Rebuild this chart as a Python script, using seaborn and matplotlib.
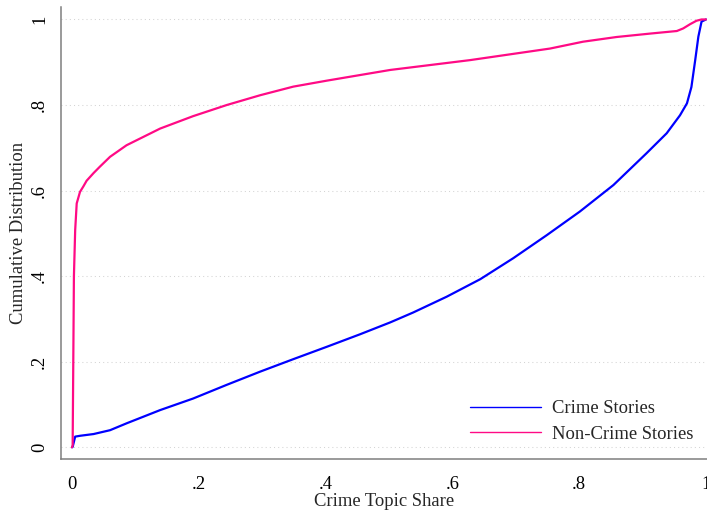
import numpy as np
import pandas as pd
import matplotlib
matplotlib.use("Agg")
import matplotlib.pyplot as plt
import seaborn as sns

# Values (cumulative distributions)
crime_x = [0.0, 0.001, 0.005, 0.013, 0.034, 0.060, 0.086, 0.139, 0.191, 0.244,
           0.297, 0.349, 0.402, 0.454, 0.502, 0.538, 0.591, 0.644, 0.696, 0.749,
           0.801, 0.854, 0.906, 0.938, 0.959, 0.970, 0.977, 0.983, 0.988, 0.993, 1.0]
crime_y = [0.0, 0.001, 0.025, 0.027, 0.031, 0.040, 0.056, 0.087, 0.114, 0.146,
           0.177, 0.206, 0.235, 0.264, 0.292, 0.315, 0.352, 0.393, 0.442, 0.496,
           0.551, 0.613, 0.687, 0.734, 0.776, 0.804, 0.842, 0.905, 0.96, 0.995, 1.0]

noncrime_x = [0.0, 0.001, 0.002, 0.003, 0.005, 0.0074, 0.0126, 0.018, 0.023, 0.034,
              0.044, 0.060, 0.086, 0.139, 0.191, 0.244, 0.297, 0.349, 0.402, 0.454,
              0.502, 0.628, 0.754, 0.806, 0.859, 0.912, 0.954, 0.964, 0.975, 0.985,
              0.993, 1.0]
noncrime_y = [0.0, 0.005, 0.200, 0.400, 0.508, 0.570, 0.597, 0.610, 0.623, 0.641,
              0.656, 0.679, 0.706, 0.745, 0.774, 0.800, 0.823, 0.843, 0.857, 0.870,
              0.882, 0.905, 0.932, 0.948, 0.959, 0.967, 0.973, 0.979, 0.989, 0.997,
              1.0, 1.0]

x_ticks = [0, 0.2, 0.4, 0.6, 0.8, 1.0]
x_tick_labels = ["0", ".2", ".4", ".6", ".8", "1"]
y_ticks = [0, 0.2, 0.4, 0.6, 0.8, 1.0]
y_tick_labels = ["0", ".2", ".4", ".6", ".8", "1"]

sns.set_style("white")
plt.rcParams["font.family"] = ["Liberation Serif", "DejaVu Serif"]

fig = plt.figure(figsize=(7.07, 5.13), dpi=100)
ax = fig.add_axes([0.0859, 0.1047, 0.9141, 0.8813])

blue = "#0000ff"
pink = "#ff0a85"
fs = 13.4

sns.lineplot(x=crime_x, y=crime_y, color=blue, lw=1.6, label="Crime Stories", ax=ax)
sns.lineplot(x=noncrime_x, y=noncrime_y, color=pink, lw=1.6, label="Non-Crime Stories", ax=ax)

ax.set_xlim(-0.0178, 1.0016)
ax.set_ylim(-0.028, 1.0287)

for yv in y_ticks:
    ax.axhline(yv, color="#d4d4d4", lw=0.75, dashes=(1, 3), zorder=0)

ax.set_xticks(x_ticks)
ax.set_xticklabels(x_tick_labels)
ax.set_yticks(y_ticks)
ax.set_yticklabels(y_tick_labels, rotation=90, va="center")

for side in ["top", "right"]:
    ax.spines[side].set_visible(False)
for side in ["left", "bottom"]:
    ax.spines[side].set_color("#7f7f7f")
    ax.spines[side].set_linewidth(1.1)

ax.tick_params(axis="both", which="major", direction="out", length=5, width=1.1,
               color="#7f7f7f", labelsize=fs, labelcolor="black", pad=4)
ax.tick_params(axis="x", pad=7)

ax.set_xlabel("Crime Topic Share", fontsize=fs, labelpad=0)
ax.set_ylabel("Cumulative Distribution", fontsize=fs, labelpad=3)

leg = ax.legend(loc="lower right", bbox_to_anchor=(1.005, 0.0), frameon=False,
                fontsize=fs, handlelength=3.8, handletextpad=0.6, labelspacing=0.45)
for line in leg.get_lines():
    line.set_linewidth(1.0)

fig.savefig("out.png", dpi=100)
